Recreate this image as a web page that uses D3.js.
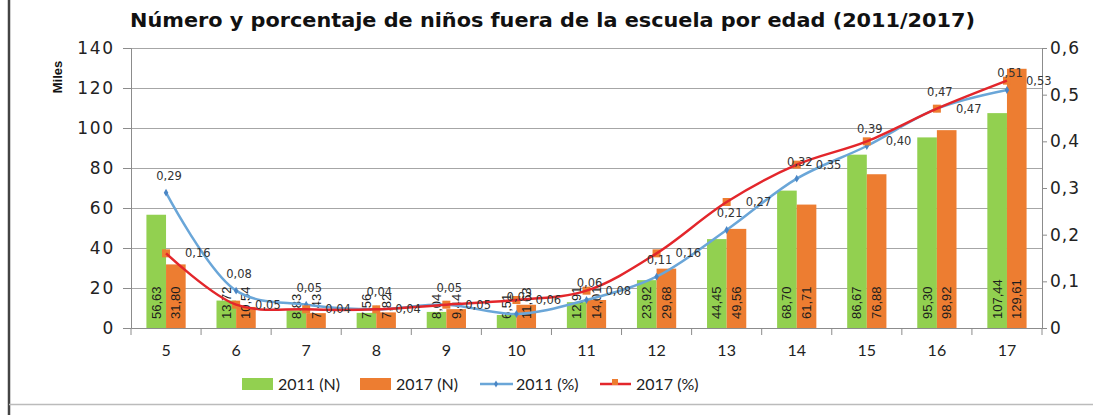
<!DOCTYPE html>
<html>
<head>
<meta charset="utf-8">
<script src="https://cdn.jsdelivr.net/npm/d3@7"></script>
<style>
  body { margin: 0; background: #fff; }
  svg { display: block; }
  .axis path, .axis line { stroke: #8c8c8c; }
  .axis text { font-family: "DejaVu Sans", Verdana, sans-serif; fill: #222; }
</style>
</head>
<body>
<div id="chart"></div>
<script>
// data
const ages = ["5", "6", "7", "8", "9", "10", "11", "12", "13", "14", "15", "16", "17"];
const n2011 = [56.63, 13.72, 8.83, 7.56, 8.04, 6.51, 12.91, 23.92, 44.45, 68.70, 86.67, 95.30, 107.44];
const n2017 = [31.80, 10.54, 7.43, 7.82, 9.44, 11.63, 14.01, 29.68, 49.56, 61.71, 76.88, 98.92, 129.61];
const pct2011 = [0.29, 0.08, 0.05, 0.04, 0.05, 0.03, 0.06, 0.11, 0.21, 0.32, 0.39, 0.47, 0.51];
const pct2017 = [0.16, 0.05, 0.04, 0.04, 0.05, 0.06, 0.08, 0.16, 0.27, 0.35, 0.40, 0.47, 0.53];
const leftTicks = [0, 20, 40, 60, 80, 100, 120, 140];
const rightTicks = [0, 0.1, 0.2, 0.3, 0.4, 0.5, 0.6];
const legendItems = ["2011 (N)", "2017 (N)", "2011 (%)", "2017 (%)"];

window.onload = init;

function comma(v, d) {
    return v.toFixed(d).replace(".", ",");
}

function init()
{
    const width = 1093;
    const height = 415;
    const svg = d3.select('#chart').append('svg').attr('width', width).attr('height', height);

    const green = "#92d050", orange = "#ed7d31", blue = "#6aa6d8", red = "#e3262b";

    // frame
    svg.append('line').attr('x1', 9).attr('x2', 9).attr('y1', 0).attr('y2', height)
        .attr('stroke', '#444').attr('stroke-width', 2.5);
    svg.append('line').attr('x1', 9).attr('x2', width).attr('y1', 404.5).attr('y2', 404.5)
        .attr('stroke', '#bbb').attr('stroke-width', 1.5);

    const left = 131, right = 1042, top = 48, bottom = 328;

    const x = d3.scaleBand().domain(ages).range([left, right]).paddingInner(0.44).paddingOuter(0.22);
    const sub = d3.scaleBand().domain(["2011", "2017"]).range([0, x.bandwidth()]);
    const yL = d3.scaleLinear().domain([0, 140]).range([bottom, top]);
    const yR = d3.scaleLinear().domain([0, 0.6]).range([bottom, top]);
    const cx = a => x(a) + x.bandwidth() / 2;

    // title
    svg.append('text').attr('x', 130).attr('y', 27)
        .attr('textLength', 845).attr('lengthAdjust', 'spacingAndGlyphs')
        .style('font-family', '"DejaVu Sans", Verdana, sans-serif').style('font-weight', 'bold')
        .style('font-size', '19px').attr('fill', '#111')
        .text('Número y porcentaje de niños fuera de la escuela por edad (2011/2017)');

    // grid
    svg.append('g').attr('class', 'grid')
        .attr('transform', `translate(${left},0)`)
        .call(d3.axisLeft(yL).tickValues(leftTicks.slice(1)).tickSize(-(right - left)).tickFormat(''))
        .call(g => g.select('.domain').remove())
        .selectAll('line').attr('stroke', '#a6a6a6');

    // left axis
    svg.append('g').attr('class', 'axis')
        .attr('transform', `translate(${left},0)`)
        .call(d3.axisLeft(yL).tickValues(leftTicks).tickSize(8).tickPadding(8))
        .call(g => g.selectAll('text').style('font-size', '17px').style('letter-spacing', '1.8px'));

    // right axis
    svg.append('g').attr('class', 'axis')
        .attr('transform', `translate(${right},0)`)
        .call(d3.axisRight(yR).tickValues(rightTicks).tickSize(5).tickPadding(3).tickFormat(d => d === 0 ? "0" : comma(d, 1)))
        .call(g => g.selectAll('text').style('font-size', '17px').style('letter-spacing', '1px'));

    // bottom axis
    const xa = svg.append('g').attr('class', 'axis')
        .attr('transform', `translate(0,${bottom})`)
        .call(d3.axisBottom(x).tickSize(0).tickPadding(17));
    xa.selectAll('text').style('font-family', 'Lato, "Open Sans", sans-serif').style('font-size', '16px');
    const bounds = ages.map(a => x(a) - x.step() * 0.22).concat([right]);
    xa.selectAll('.sep').data(bounds).enter().append('line').attr('class', 'sep')
        .attr('x1', d => d).attr('x2', d => d).attr('y1', 0).attr('y2', 7);

    // Miles
    svg.append('text').attr('transform', 'translate(62,77) rotate(-90)').attr('text-anchor', 'middle')
        .style('font-family', '"Liberation Sans Narrow", "Liberation Sans", sans-serif')
        .style('font-weight', 'bold').style('font-size', '13px').attr('fill', '#111').text('Miles');

    // bars
    const bars = [
        { key: "2011", vals: n2011, color: green },
        { key: "2017", vals: n2017, color: orange }
    ];
    bars.forEach(s => {
        const g = svg.append('g');
        g.selectAll('rect').data(ages).enter().append('rect')
            .attr('x', a => x(a) + sub(s.key))
            .attr('width', sub.bandwidth())
            .attr('y', (a, i) => yL(s.vals[i]))
            .attr('height', (a, i) => bottom - yL(s.vals[i]))
            .attr('fill', s.color);
        g.selectAll('text').data(ages).enter().append('text')
            .attr('transform', a => `translate(${x(a) + sub(s.key) + sub.bandwidth() / 2 + 4.5},${bottom - 9}) rotate(-90)`)
            .style('font-family', '"Liberation Sans Narrow", "Liberation Sans", sans-serif')
            .style('font-size', '13px').attr('fill', '#1d1d1d')
            .text((a, i) => comma(s.vals[i], 2));
    });

    // lines
    const smooth = d3.curveCatmullRom.alpha(0.5);
    const line2011 = d3.line().x(a => cx(a)).y((a, i) => yR(pct2011[i])).curve(smooth);
    const line2017 = d3.line().x(a => cx(a)).y((a, i) => yR(pct2017[i])).curve(smooth);

    svg.append('path').datum(ages).attr('d', line2011).attr('fill', 'none')
        .attr('stroke', blue).attr('stroke-width', 2.5);
    svg.selectAll('.m2011').data(ages).enter().append('path').attr('class', 'm2011')
        .attr('d', d3.symbol(d3.symbolDiamond, 18))
        .attr('transform', (a, i) => `translate(${cx(a)},${yR(pct2011[i])})`)
        .attr('fill', '#4a86c5');

    svg.selectAll('.m2017').data(ages).enter().append('rect').attr('class', 'm2017')
        .attr('x', a => cx(a) - 4).attr('y', (a, i) => yR(pct2017[i]) - 4)
        .attr('width', 8).attr('height', 8).attr('fill', orange);
    svg.append('path').datum(ages).attr('d', line2017).attr('fill', 'none')
        .attr('stroke', red).attr('stroke-width', 2.5);

    // percent labels
    const lblFont = '"DejaVu Sans", Verdana, sans-serif';
    svg.selectAll('.l2011').data(ages).enter().append('text').attr('class', 'l2011')
        .attr('x', a => cx(a) + 3).attr('y', (a, i) => yR(pct2011[i]) - 13)
        .attr('text-anchor', 'middle').style('font-family', lblFont).style('font-size', '11.5px')
        .attr('fill', '#333').text((a, i) => comma(pct2011[i], 2));
    svg.selectAll('.l2017').data(ages).enter().append('text').attr('class', 'l2017')
        .attr('x', a => cx(a) + 19).attr('y', (a, i) => yR(pct2017[i]) + 4)
        .style('font-family', lblFont).style('font-size', '11.5px')
        .attr('fill', '#333').text((a, i) => comma(pct2017[i], 2));

    // legend
    const lx = [242, 360, 480, 600];
    const lg = svg.append('g').attr('transform', 'translate(0,384)');
    lg.append('rect').attr('x', lx[0]).attr('y', -6).attr('width', 31).attr('height', 12).attr('fill', green);
    lg.append('rect').attr('x', lx[1]).attr('y', -6).attr('width', 31).attr('height', 12).attr('fill', orange);
    lg.append('line').attr('x1', lx[2]).attr('x2', lx[2] + 33).attr('y1', 0).attr('y2', 0)
        .attr('stroke', blue).attr('stroke-width', 2.5);
    lg.append('path').attr('d', d3.symbol(d3.symbolDiamond, 14)).attr('transform', `translate(${lx[2] + 16},0)`).attr('fill', '#4a86c5');
    lg.append('line').attr('x1', lx[3]).attr('x2', lx[3] + 31).attr('y1', 0).attr('y2', 0)
        .attr('stroke', red).attr('stroke-width', 2.5);
    lg.append('rect').attr('x', lx[3] + 12).attr('y', -5).attr('width', 6).attr('height', 6).attr('fill', orange);
    lg.selectAll('.lt').data(legendItems).enter().append('text').attr('class', 'lt')
        .attr('x', (d, i) => lx[i] + 36).attr('y', 5.5)
        .style('font-family', 'Lato, "Open Sans", sans-serif').style('font-size', '16px')
        .attr('fill', '#222').text(d => d);
}
</script>
</body>
</html>
